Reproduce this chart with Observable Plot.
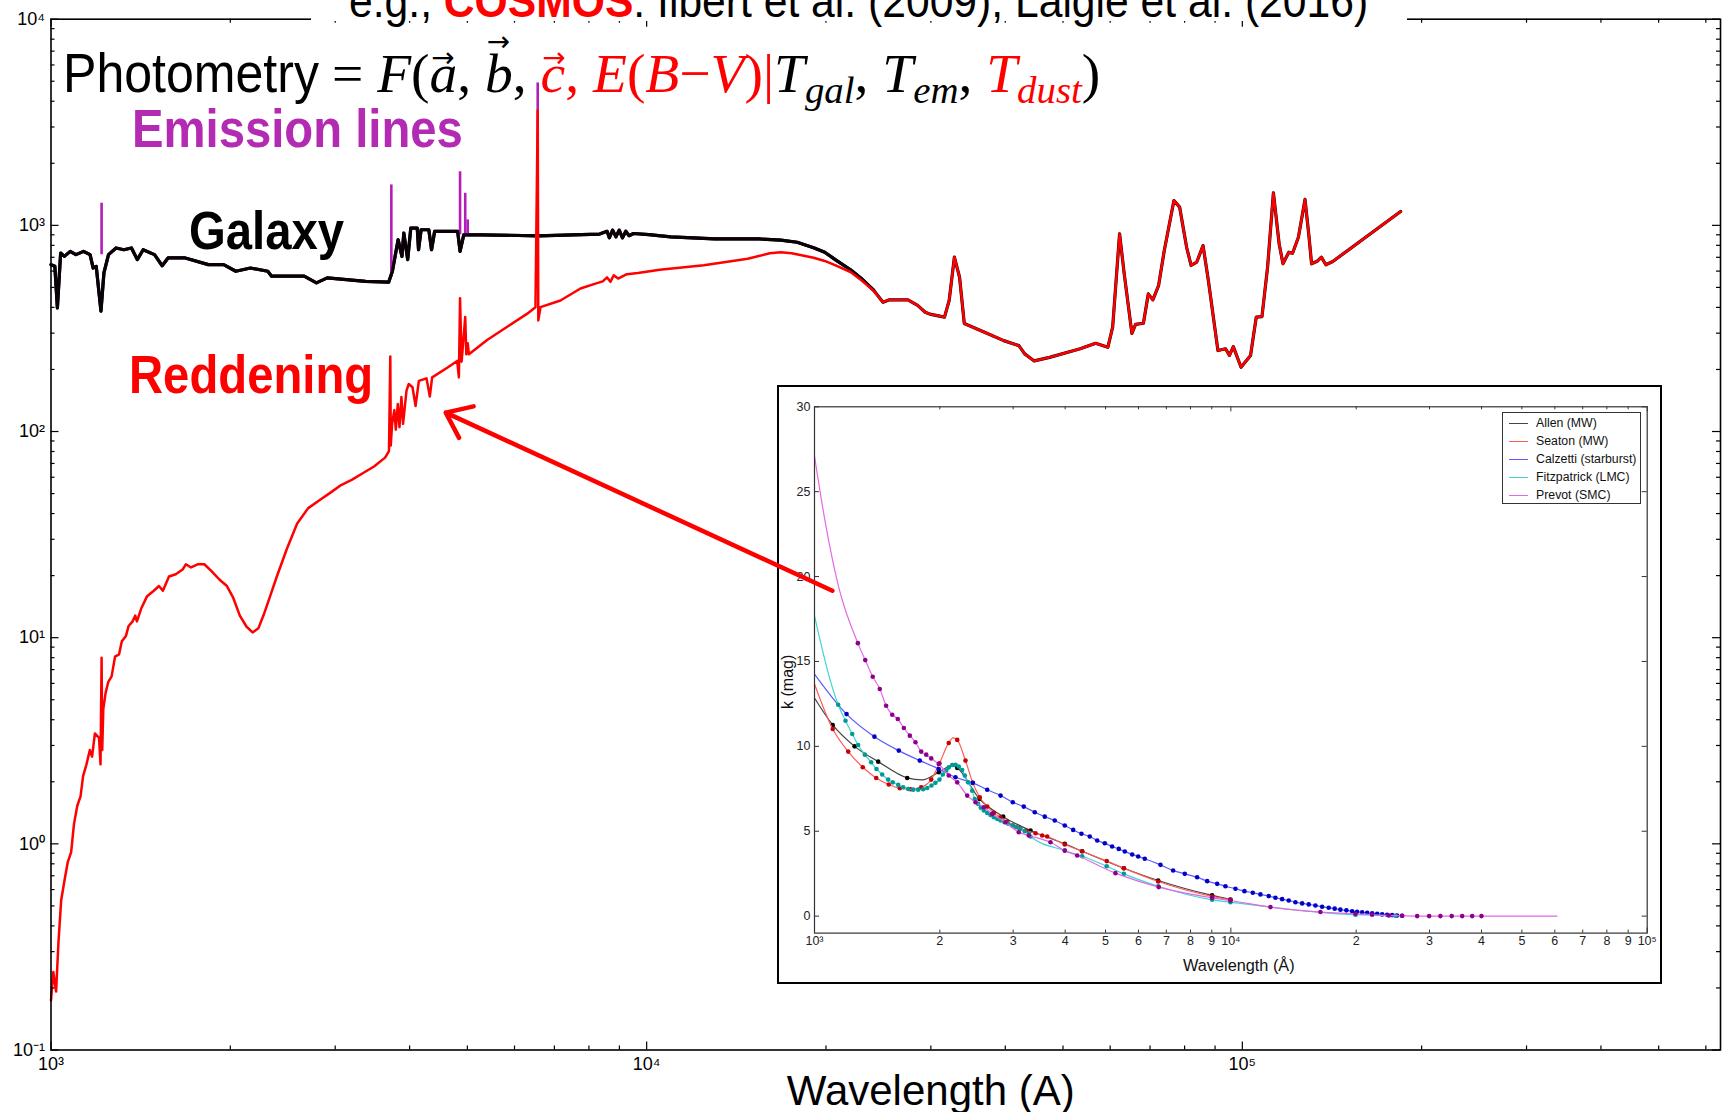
<!DOCTYPE html>
<html>
<head>
<meta charset="utf-8">
<script src="https://cdn.jsdelivr.net/npm/d3@7"></script>
<script src="https://cdn.jsdelivr.net/npm/@observablehq/plot@0.6"></script>
<style>
  body { margin: 0; background: #fff; }
  #wrap { position: relative; width: 1723px; height: 1112px; overflow: hidden; background: #fff; }
  .ann { position: absolute; white-space: nowrap; line-height: 1; transform-origin: 0 0; }
  .sans { font-family: "Liberation Sans", Arial, sans-serif; }
  .bold { font-family: "Liberation Sans", Arial, sans-serif; font-weight: bold; }
  .serif { font-family: "Liberation Serif", "Times New Roman", serif; }
  .red { color: #ff0000; }
  .v { position: relative; display: inline-block; }
  .arr { position: absolute; left: 0.06em; top: -0.08em; font-family: "DejaVu Sans", sans-serif;
         font-style: normal; font-size: 0.5em; line-height: 1; }
  .arr.hi { top: -0.66em; }
  sub { font-size: 0.7em; vertical-align: -0.28em; line-height: 1; font-style: italic; }
  #cite-box { position: absolute; left: 311px; top: 0; width: 1096px; height: 21px; background: #fff; }
  #inset { position: absolute; left: 777px; top: 384.7px; width: 881px; height: 595px;
           border: 2px solid #000; background: #fff; }
  #legend { position: absolute; left: 723px; top: 25.3px; width: 137px; height: 90px;
            border: 1px solid #333; background: #fff; font-family: "Liberation Sans", Arial, sans-serif;
            font-size: 12.3px; color: #111; }
  .lrow { position: absolute; left: 0; height: 14px; line-height: 14px; }
  .lline { position: absolute; left: 6px; top: 7px; width: 19px; border-top: 1.2px solid; }
  .ltext { position: absolute; left: 33px; top: 0; white-space: nowrap; }
</style>
</head>
<body>
<div id="wrap"></div>
<script>
// ---------- galaxy template spectrum (wavelength in Å, flux) ----------
const galaxy = [
  [1000,645],[1015,633],[1025,398],[1038,734],[1053,707],[1077,748],[1101,721],[1134,748],
  [1163,721],[1177,621],[1191,633],[1213,384],[1227,588],[1249,721],[1286,777],[1325,762],
  [1365,777],[1396,682],[1428,762],[1492,721],[1537,637],[1572,695],[1680,695],[1837,645],
  [1949,645],[2043,599],[2162,621],[2312,599],[2346,567],[2508,567],[2661,567],[2790,526],
  [2909,556],[3133,546],[3374,535],[3689,530],[3742,599],[3826,852],[3883,707],[3911,918],
  [3970,682],[4018,970],[4120,970],[4140,762],[4182,952],[4308,952],[4354,762],[4406,935],
  [4816,935],[4861,748],[4931,900],[5266,900],[6576,890],[8337,907],[8582,936],[8656,870],
  [8767,947],[8880,880],[8993,947],[9108,870],[9225,936],[9343,891],[9503,913],[10085,902],
  [10980,880],[11953,870],[13013,859],[14166,859],[15423,859],[16793,848],[17890,828],
  [19068,779],[19904,741],[20758,680],[21990,609],[22990,549],[24045,485]
];

// ---------- reddened spectrum with emission lines and dust emission ----------
const reddened = [
  [1000,0.174],[1009,0.239],[1020,0.192],[1029,0.329],[1040,0.531],[1054,0.670],[1067,0.816],
  [1081,0.911],[1093,1.25],[1107,1.53],[1121,1.70],[1132,2.13],[1147,2.43],[1162,2.85],
  [1172,2.65],[1185,3.43],[1204,3.27],[1211,2.43],[1216,8.0],[1219,2.85],[1224,4.49],
  [1235,5.40],[1248,6.11],[1264,6.49],[1281,8.10],[1301,8.30],[1315,9.61],[1336,10.2],
  [1350,11.4],[1371,12.0],[1385,12.8],[1394,12.0],[1418,13.9],[1450,15.9],[1488,16.9],
  [1518,17.8],[1541,16.9],[1578,19.8],[1620,20.3],[1663,21.4],[1684,22.7],[1718,21.9],
  [1763,22.7],[1809,22.7],[1858,21.1],[1919,19.1],[1974,17.8],[2021,15.7],[2075,12.8],
  [2130,11.3],[2180,10.6],[2229,11.1],[2273,12.8],[2333,15.9],[2394,19.8],[2489,27.0],
  [2590,35.8],[2703,42.5],[2819,46.3],[2942,50.4],[3069,55.0],[3203,58.4],[3342,62.9],
  [3486,67.7],[3638,74.7],[3693,80.4],[3712,231],[3719,85.5],[3738,109],[3771,127],
  [3792,102],[3821,136],[3846,105],[3875,147],[3900,109],[3952,158],[3987,170],[4045,164],
  [4093,133],[4145,176],[4270,181],[4325,148],[4364,183],[4626,204],[4808,220],[4839,183],
  [4861,443],[4890,218],[4959,359],[4980,237],[5007,268],[5030,237],[5398,278],[5833,322],
  [6304,373],[6506,401],[6563,3610],[6578,346],[6634,401],[7166,432],[7743,494],[8153,519],
  [8438,535],[8582,559],[8693,532],[8804,573],[8955,552],[9264,580],[9666,587],[10522,609],
  [11455,624],[12472,640],[13577,664],[14781,689],[16090,732],[16793,741],[17516,732],
  [18281,714],[19068,697],[19904,672],[20758,640],[21990,594],[22990,539],[24045,482],
  [24932,424],[25506,435],[27458,435],[28502,409],[29350,379],[30020,370],[31623,359],
  [32200,432],[32854,701],[33520,560],[34140,334],[36920,303],[39760,276],[42160,261],
  [43120,238],[44740,220],[47470,229],[53430,252],[56720,268],[59460,256],[60580,321],
  [62220,910],[63350,582],[65260,299],[66180,331],[68230,335],[69520,465],[70770,435],
  [72340,510],[73960,755],[76770,1320],[78480,1226],[80630,783],[82030,640],[83860,664],
  [85910,798],[87700,540],[91000,247],[93740,252],[95150,234],[96580,258],[99500,205],
  [103230,234],[105540,359],[107890,361],[110260,627],[112770,1438],[115290,814],
  [117020,651],[119690,741],[121430,732],[124210,876],[127420,1336],[129430,876],
  [130700,651],[133790,672],[135740,701],[138110,644],[141860,668],[184400,1167]
];

// ---------- emission lines added to the galaxy template ----------
const emissionWave = [1216, 3727, 4861, 4959, 5007, 6563];
const emissionBase = [720, 560, 900, 900, 900, 890];
const emissionPeak = [1280, 1571, 1820, 1431, 1063, 4908];

// arrow from the extinction panel towards the UV bump of the reddened spectrum
const arrowTail = [20500, 16.9];
const arrowHead = [4600, 123.5];

// ---------- extinction laws k(λ): tabulated points and curve-only points ----------
const allenPts = [[1106,11.26],[1248,10.0],[1422,9.1],[1670,8.14],[1988,8.47],[2202,8.73],[2490,6.9],
  [2839,5.86],[3302,5.04],[3991,4.26],[4394,3.82],[5533,2.82],[6691,2.1],[9016,1.22],[9978,0.98]];
const allenCurve = [[1000,12.85],[1814,8.02],[2141,8.86]];

const seatonPts = [[1106,11.02],[1205,9.69],[1306,8.77],[1407,8.14],[1508,7.75],[1603,7.53],[1701,7.47],
  [1804,7.59],[1907,8.04],[1996,9.0],[2101,10.2],[2202,10.38],[2305,9.16],[2400,7.85],[2494,7.0],
  [2599,6.45],[2696,6.08],[2798,5.82],[2903,5.57],[2994,5.34],[3107,5.18],[3224,5.04],[3395,4.88],
  [3523,4.75],[3621,4.69],[3991,4.22],[4394,3.82],[5033,3.24],[5533,2.82],[6691,2.04],[9016,1.16],
  [9978,0.96]];
const seatonCurve = [[1000,13.67],[2150,10.5]];

const calzettiPts = [[1194,11.9],[1393,10.57],[1594,9.75],[1790,9.16],[1988,8.67],[2181,8.18],
  [2400,7.85],[2599,7.44],[2798,7.1],[2994,6.71],[3181,6.45],[3381,6.12],[3573,5.86],[3776,5.63],
  [3991,5.34],[4181,5.08],[4377,4.85],[4583,4.69],[4775,4.45],[4981,4.29],[5187,4.1],[5380,3.96],
  [5563,3.81],[5795,3.63],[5990,3.51],[6212,3.38],[6775,3.02],[7268,2.69],[7750,2.49],[8299,2.29],
  [8773,2.06],[9271,1.9],[9706,1.76],[10258,1.61],[10781,1.47],[11289,1.38],[11778,1.28],
  [12331,1.18],[12796,1.08],[13279,1.0],[13772,0.92],[14294,0.82],[14833,0.75],[15384,0.69],
  [15963,0.63],[16566,0.55],[17181,0.49],[17758,0.44],[18327,0.38],[18946,0.34],[19553,0.29],
  [20101,0.26],[20670,0.22],[21256,0.2],[21852,0.16],[22462,0.14],[23091,0.1],[23736,0.08],
  [24399,0.06],[25077,0.04],[25784,0.02]];
const calzettiCurve = [[1000,14.26]];

const fitzPts = [[1140,12.45],[1187,11.51],[1232,10.73],[1273,10.08],[1321,9.51],[1368,9.06],
  [1409,8.67],[1454,8.34],[1503,8.04],[1542,7.88],[1589,7.73],[1633,7.59],[1679,7.49],[1726,7.45],
  [1774,7.45],[1824,7.47],[1865,7.55],[1910,7.69],[1952,7.85],[1996,8.04],[2033,8.34],[2072,8.57],
  [2101,8.76],[2141,8.9],[2181,8.92],[2221,8.81],[2263,8.61],[2296,8.28],[2339,7.88],[2392,7.39],
  [2426,6.9],[2472,6.61],[2508,6.38],[2551,6.22],[2599,6.08],[2647,5.96],[2696,5.82],[2747,5.73],
  [2798,5.63],[2860,5.53],[2919,5.44],[2984,5.34],[3051,5.24],[3124,5.14],[3199,5.0],[3271,4.85],
  [3302,4.69],[3991,3.86],[4394,3.53],[5033,2.94],[5533,2.49],[6691,1.76],[9016,0.96],[9978,0.82],
  [19920,0.08],[24850,0.02]];
const fitzCurve = [[1000,17.69],[1092,13.86]];

const prevotPts = [[1271,16.08],[1324,15.08],[1380,14.1],[1435,13.38],[1486,12.39],[1537,11.86],
  [1585,11.61],[1639,11.08],[1694,10.63],[1748,10.24],[1804,9.69],[1855,9.51],[1907,9.29],
  [1988,8.96],[2101,8.28],[2202,7.88],[2327,7.1],[2436,6.71],[2551,6.41],[2672,6.02],[2876,5.53],
  [3095,4.94],[3271,4.75],[3688,4.35],[3991,3.86],[4275,3.57],[5283,2.53],[6713,1.71],[9016,1.08],
  [9978,0.92],[12450,0.53],[16410,0.24],[19920,0.14],[21840,0.08],[23950,0.04],[25790,0.02],
  [28020,0],[29940,0],[31870,0],[33920,0],[35940,0],[37980,0],[39990,0]];
const prevotCurve = [[1000,27.1],[1063,23.1],[1144,19.35],[60760,0]];

const lawNames = ["Allen (MW)", "Seaton (MW)", "Calzetti (starburst)", "Fitzpatrick (LMC)", "Prevot (SMC)"];
const lawLine  = ["#444444", "#ff5a5a", "#5a5aff", "#3fd6d0", "#e468e4"];
const lawDot   = ["#000000", "#c80000", "#0000c8", "#009a96", "#8c008c"];
const lawPts   = [allenPts, seatonPts, calzettiPts, fitzPts, prevotPts];
const lawCurve = [allenCurve, seatonCurve, calzettiCurve, fitzCurve, prevotCurve];

// ---------- axis ticks ----------
const mainXMajor = [1e3, 1e4, 1e5];
const mainYMajor = [0.1, 1, 10, 100, 1000, 10000];
const subs = [2, 3, 4, 5, 6, 7, 8, 9];
const mainXMinor = mainXMajor.flatMap(d => subs.map(m => m * d)).filter(v => v < 635000);
const mainYMinor = mainYMajor.slice(0, -1).flatMap(d => subs.map(m => m * d));
const insetXTicks = [1e3, 1e4].flatMap(d => [1, ...subs].map(m => m * d)).concat([1e5]);
const insetXMajor = [1e3, 1e4, 1e5];
const insetXMinor = insetXTicks.filter(v => !insetXMajor.includes(v));
const kTicks = [0, 5, 10, 15, 20, 25, 30];

const supDigits = "⁰¹²³⁴⁵⁶⁷⁸⁹";
const sup = s => String(s).split("").map(c => c === "-" ? "⁻" : supDigits[+c]).join("");
const pow10 = d => "10" + sup(Math.round(Math.log10(d)));
const insetTickText = d => insetXMajor.includes(d)
  ? pow10(d)
  : String(Math.round(d / 10 ** Math.floor(Math.log10(d))));

const wrap = document.getElementById("wrap");

// ---------- main panel ----------
const W = 1723, H = 1112;
const mL = 50.5, mR = 3, mT = 18.7, mB = 62.5;
const iw = W - mL - mR, ih = H - mT - mB;
const xDomain = [1000, 635000], yDomain = [0.1, 10000];
const xy = {x: d => d[0], y: d => d[1]};

const galaxyLine = galaxy.concat(reddened.filter(d => d[0] > galaxy[galaxy.length - 1][0]));
const emission = emissionWave.map((w, i) => ({w, lo: emissionBase[i], hi: emissionPeak[i]}));

const main = Plot.plot({
  width: W, height: H,
  marginLeft: mL, marginRight: mR, marginTop: mT, marginBottom: mB,
  x: {type: "log", domain: xDomain},
  y: {type: "log", domain: yDomain},
  style: {fontFamily: "'Liberation Sans', Arial, sans-serif", fontSize: "18px", color: "#000",
          background: "white", position: "absolute", left: "0px", top: "0px", overflow: "visible"},
  marks: [
    Plot.line(galaxyLine, {...xy, stroke: "#0a0008", strokeWidth: 3.2, strokeLinejoin: "round"}),
    Plot.ruleX(emission, {x: "w", y1: "lo", y2: "hi", stroke: "#b21eb8", strokeWidth: 2.6}),
    // the galaxy continuum is drawn again over the foot of the emission spikes
    Plot.line(galaxy, {...xy, stroke: "#0a0008", strokeWidth: 3.2, strokeLinejoin: "round"}),
    Plot.line(reddened, {...xy, stroke: "#ff0000", strokeWidth: 2.5, strokeLinejoin: "round"}),
    // inward ticks on all four sides
    Plot.ruleX(mainXMajor, {insetTop: ih - 8, stroke: "#000", strokeWidth: 1.2}),
    Plot.ruleX(mainXMinor, {insetTop: ih - 4, stroke: "#000", strokeWidth: 1.2}),
    Plot.ruleX(mainXMajor, {insetBottom: ih - 8, stroke: "#000", strokeWidth: 1.2}),
    Plot.ruleX(mainXMinor, {insetBottom: ih - 4, stroke: "#000", strokeWidth: 1.2}),
    Plot.ruleY(mainYMajor, {insetRight: iw - 8, stroke: "#000", strokeWidth: 1.2}),
    Plot.ruleY(mainYMinor, {insetRight: iw - 4, stroke: "#000", strokeWidth: 1.2}),
    Plot.ruleY(mainYMajor, {insetLeft: iw - 8, stroke: "#000", strokeWidth: 1.2}),
    Plot.ruleY(mainYMinor, {insetLeft: iw - 4, stroke: "#000", strokeWidth: 1.2}),
    Plot.frame({stroke: "#000", strokeWidth: 1.6}),
    Plot.axisX(mainXMajor, {tickSize: 0, tickPadding: 7, tickFormat: pow10, label: null, fontSize: 18}),
    Plot.axisY(mainYMajor, {tickSize: 0, tickPadding: 6, tickFormat: pow10, label: null, fontSize: 18}),
    Plot.text(["Wavelength (A)"], {frameAnchor: "bottom", dx: 45, dy: 54.5, lineAnchor: "bottom",
                                   fontSize: 42, fill: "#000"})
  ]
});
wrap.appendChild(main);

// citation line across the top, on a white band
const citeBox = document.createElement("div");
citeBox.id = "cite-box";
wrap.appendChild(citeBox);

function place(html, cls, left, baseline, size, sx, asc) {
  const el = document.createElement("div");
  el.className = "ann " + cls;
  el.innerHTML = html;
  el.style.left = left + "px";
  el.style.top = (baseline - asc * size) + "px";
  el.style.fontSize = size + "px";
  el.style.transform = `scaleX(${sx})`;
  wrap.appendChild(el);
  return el;
}
const SANS_ASC = 0.8465, SERIF_ASC = 0.8375;

place('e.g., <b class="red">COSMOS</b>: Ilbert et al. (2009), Laigle et al. (2016)',
      "sans", 349, 17, 46, 0.927, SANS_ASC);

place("Photometry", "sans", 62.6, 92.3, 55, 0.91, SANS_ASC);
place('= <i>F</i>(<span class="v"><i>a</i><span class="arr">→</span></span>, ' +
      '<span class="v"><i>b</i><span class="arr hi">→</span></span>,' +
      '<span class="red"> <span class="v"><i>c</i><span class="arr">→</span></span>, <i>E</i>(<i>B</i>−<i>V</i>)|</span>' +
      '<i>T</i><sub>gal</sub>, <i>T</i><sub>em</sub>, <span class="red"><i>T</i><sub>dust</sub></span>)',
      "serif", 332, 92.3, 55.5, 1, SERIF_ASC);

place('<span style="color:#b22bb2">Emission lines</span>', "bold", 131.9, 147, 54, 0.875, SANS_ASC);
place('<span style="color:#000">Galaxy</span>', "bold", 189, 248.4, 54, 0.875, SANS_ASC);
place('<span style="color:#ff0000">Reddening</span>', "bold", 128.6, 392.3, 54, 0.875, SANS_ASC);

// ---------- extinction-law panel ----------
const inset = document.createElement("div");
inset.id = "inset";
wrap.appendChild(inset);

const IW = 881, IH = 595;
const iL = 35, iR = 13.3, iT = 19.3, iB = 49.4;
const iiw = IW - iL - iR, iih = IH - iT - iB;

const lawMarks = lawPts.flatMap((pts, i) => {
  const curve = pts.concat(lawCurve[i]).sort((a, b) => a[0] - b[0]);
  return [
    Plot.line(curve, {...xy, stroke: lawLine[i], strokeWidth: 1.2, curve: "monotone-x"}),
    Plot.dot(pts, {...xy, r: 2.3, fill: lawDot[i], stroke: "none"})
  ];
});

const panel = Plot.plot({
  width: IW, height: IH,
  marginLeft: iL, marginRight: iR, marginTop: iT, marginBottom: iB,
  x: {type: "log", domain: [1000, 100000], axis: null},
  y: {domain: [-1, 30]},
  style: {fontFamily: "'Liberation Sans', Arial, sans-serif", fontSize: "12.5px", color: "#222",
          background: "white", position: "absolute", left: "0px", top: "0px", overflow: "visible"},
  marks: [
    ...lawMarks,
    Plot.ruleX(insetXMajor, {insetTop: iih - 5, stroke: "#333"}),
    Plot.ruleX(insetXMinor, {insetTop: iih - 3, stroke: "#333"}),
    Plot.ruleX(insetXMajor, {insetBottom: iih - 5, stroke: "#333"}),
    Plot.ruleX(insetXMinor, {insetBottom: iih - 3, stroke: "#333"}),
    Plot.ruleY(kTicks, {insetRight: iiw - 5, stroke: "#333"}),
    Plot.ruleY(kTicks, {insetLeft: iiw - 5, stroke: "#333"}),
    Plot.frame({stroke: "#333", strokeWidth: 1.2}),
    Plot.text(insetXTicks, {x: d => d, frameAnchor: "bottom", dy: 3, lineAnchor: "top",
                            text: insetTickText, fontSize: 12.5, fill: "#222"}),
    Plot.axisY(kTicks, {tickSize: 0, tickPadding: 4, label: null, fontSize: 12.5}),
    Plot.text(["Wavelength (Å)"], {frameAnchor: "bottom", dx: 8, dy: 38, lineAnchor: "bottom",
                                   fontSize: 16.3, fill: "#111"}),
    Plot.text(["k (mag)"], {frameAnchor: "left", dx: -27, dy: 39, rotate: -90, fontSize: 16, fill: "#111"})
  ]
});
inset.appendChild(panel);

const legend = document.createElement("div");
legend.id = "legend";
lawNames.forEach((name, i) => {
  const row = document.createElement("div");
  row.className = "lrow";
  row.style.top = (3 + i * 18.1) + "px";
  row.style.width = "135px";
  row.innerHTML = `<div class="lline" style="border-color:${lawLine[i]}"></div><div class="ltext">${name}</div>`;
  legend.appendChild(row);
});
inset.appendChild(legend);

// ---------- arrow drawn above the panel, in the spectrum's coordinates ----------
const arrowLayer = Plot.plot({
  width: W, height: H,
  marginLeft: mL, marginRight: mR, marginTop: mT, marginBottom: mB,
  x: {type: "log", domain: xDomain, axis: null},
  y: {type: "log", domain: yDomain, axis: null},
  style: {background: "transparent", position: "absolute", left: "0px", top: "0px",
          pointerEvents: "none", overflow: "visible"},
  marks: [
    Plot.arrow([{x1: arrowTail[0], y1: arrowTail[1], x2: arrowHead[0], y2: arrowHead[1]}],
      {x1: "x1", y1: "y1", x2: "x2", y2: "y2", stroke: "#ff0000", strokeWidth: 4.5,
       headLength: 9.5, headAngle: 75})
  ]
});
wrap.appendChild(arrowLayer);
</script>
</body>
</html>
